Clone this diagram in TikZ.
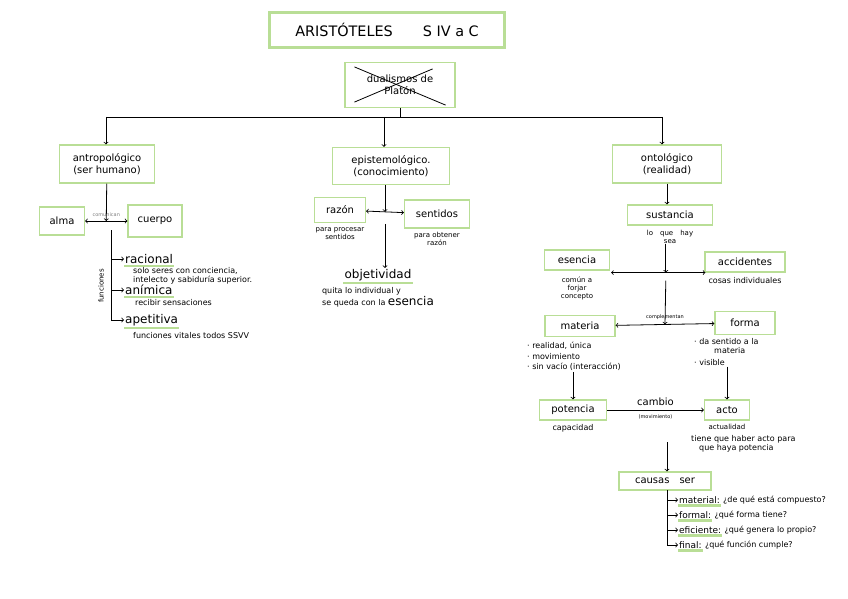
\documentclass[tikz,border=0pt]{standalone}
\usepackage{fontspec}
\setmainfont{DejaVu Sans}
\usepackage{xcolor}
\usepackage{tikz}
\usetikzlibrary{positioning}
\definecolor{hlgreen}{RGB}{185,222,150}

\begin{document}
\begin{tikzpicture}[x=1pt, y=-1pt,
    box/.style={rectangle, draw=hlgreen, line width=1.2pt, minimum height=20pt, align=center, font=\normalsize},
    word/.style={font=\large, inner sep=1pt, append after command={([yshift=-1pt]\tikzlastnode.south west) edge[hlgreen, line width=2.5pt] ([yshift=-1pt]\tikzlastnode.south east)}},
    key/.style={word, font=\small},
    note/.style={font=\footnotesize, align=left, inner sep=1pt},
    sub/.style={font=\scriptsize, align=center, inner sep=1pt},
    arrow/.style={thick,->,>=to},
    darrow/.style={thick,<->,>=to}
]
\useasboundingbox (0,0) rectangle (848,599);

% Title
\node (title) [box, line width=3pt, minimum width=235pt, minimum height=35pt, font=\Large] at (387,30) {ARISTÓTELES\hspace{30pt}S IV a C};
\node (dual) [box, minimum width=110pt, minimum height=45pt] at (400,85) {dualismos de\\Platón};
\draw[thick] ([shift={(10,5)}]dual.north west) -- ([shift={(-10,-3)}]dual.south east);
\draw[thick] ([shift={(10,-6)}]dual.south west) -- ([shift={(-23,7)}]dual.north east);

% Main branches
\node (antro) [box, minimum width=95pt, minimum height=38pt] at (107,164) {antropológico\\(ser humano)};
\node (episte) [box, minimum width=117pt, minimum height=37pt] at (391,166) {epistemológico.\\(conocimiento)};
\node (onto) [box, minimum width=109pt, minimum height=38pt] at (667,164) {ontológico\\(realidad)};

\coordinate (barL) at (106,117);
\coordinate (barM) at (384,117);
\coordinate (barR) at (662,117);
\draw[thick] (dual) -- (dual |- barM);
\draw[thick] (barL) -- (barR);
\draw[arrow] (barL) -- (barL |- antro.north);
\draw[arrow] (barM) -- (barM |- episte.north);
\draw[arrow] (barR) -- (barR |- onto.north);

% antropologico
\node (alma) [box, minimum width=45pt, minimum height=28pt] at (62,221) {alma};
\node (cuerpo) [box, minimum width=54pt, minimum height=32pt] at (155,221) {cuerpo};
\draw[darrow] (alma) -- (cuerpo) node[midway, above=1pt, font=\tiny, text=gray] {comunican} coordinate[midway] (ac);
\draw[arrow] (antro) -- (ac);

\coordinate (fn) at (111,230);
\node (rac) [word, anchor=west] at (124,259) {racional};
\node [note, below right=1pt and 8pt of rac.south west] {solo seres con conciencia,\\intelecto y sabiduría superior.};
\node (anim) [word, anchor=west] at (124,290) {anímica};
\node [note, below right=2pt and 10pt of anim.south west] {recibir sensaciones};
\node (apet) [word, anchor=west] at (124,320) {apetitiva};
\node [note, below right=4pt and 8pt of apet.south west] {funciones vitales todos SSVV};
\node [sub, rotate=90] at (101,286) {funciones};
\draw[arrow] (fn) |- (rac);
\draw[arrow] (fn) |- (anim);
\draw[arrow] (fn) |- (apet);

% epistemologico
\node (razon) [box, minimum width=51pt, minimum height=25pt] at (340,210) {razón};
\node (sent) [box, minimum width=65pt, minimum height=28pt] at (437,214) {sentidos};
\node [sub, below=3pt of razon] {para procesar\\sentidos};
\node [sub, below=2pt of sent] {para obtener\\razón};
\draw[darrow] (razon) -- (sent) coordinate[midway] (rs);
\draw[arrow] (episte.south -| rs) -- (rs);
\node (obj) [word] at (378,275) {objetividad};
\node [note, below=4pt of obj] {quita lo individual y\\se queda con la {\large esencia}};
\draw[arrow] ([yshift=-12pt]rs) -- (rs |- obj.north);

% ontologico
\node (sust) [box, minimum width=85pt] at (670,215) {sustancia};
\node (hay) [sub, below=3pt of sust] {lo\quad que\quad hay\\sea};
\draw[arrow] (onto.south) -- (onto.south |- sust.north);
\node (esen) [box, minimum width=65pt] at (577,260) {esencia};
\node [sub, below=5pt of esen] {común a\\forjar\\concepto};
\node (acc) [box, minimum width=80pt] at (745,262) {accidentes};
\node [note, below=4pt of acc] {cosas individuales};
\draw[darrow] ([shift={(1,2)}]esen.south east) -- ([shift={(1,2)}]esen.south east -| acc.west) coordinate[pos=0.58] (ea);
\draw[arrow] (ea |- hay.south) -- (ea);

\node (mat) [box, minimum width=70pt, minimum height=21pt] at (580,326) {materia};
\node (forma) [box, minimum width=60pt, minimum height=23pt] at (745,323) {forma};
\draw[darrow] (mat) -- (forma) node[midway, above=1pt, font=\tiny] {complementan} coordinate[midway] (mf);
\draw[arrow] ([yshift=-8pt]ea) -- (mf);
\node (mnote) [note, anchor=north west] at (526,341) {· realidad, única\\[1pt]· movimiento\\[1pt]· sin vacío (interacción)};
\node (fnote) [note, anchor=north west] at (693,337) {· da sentido a la\\\hspace{2.5em}materia\\[2pt]· visible};

\node (pot) [box, minimum width=67pt] at (573,410) {potencia};
\node [note, below=3pt of pot] {capacidad};
\node (acto) [box, minimum width=45pt] at (727,410) {acto};
\node [sub, below=2pt of acto] {actualidad};
\node [note, anchor=north west] at (690,434) {tiene que haber acto para\\\hspace{1em}que haya potencia};
\draw[arrow] (pot |- mnote.south) -- (pot);
\draw[arrow] (acto |- fnote.south) -- (acto);
\draw[arrow] (pot) -- (acto) node[midway, above=1pt, font=\normalsize] {cambio} node[midway, below=1pt, font=\tiny] {(movimiento)};

% causas
\node (causas) [box, minimum width=92pt, minimum height=18pt] at (665,481) {causas\quad ser};
\coordinate (cz) at (667,442);
\draw[arrow] (cz) -- (cz |- causas.north);
\coordinate (cs) at (667,490);
\node (cmat) [key, anchor=west] at (678,500) {material:};
\node [note, right=1pt of cmat] {¿de qué está compuesto?};
\node (cfor) [key, anchor=west] at (678,515) {formal:};
\node [note, right=1pt of cfor] {¿qué forma tiene?};
\node (cefi) [key, anchor=west] at (678,530) {eficiente:};
\node [note, right=1pt of cefi] {¿qué genera lo propio?};
\node (cfin) [key, anchor=west] at (678,545) {final:};
\node [note, right=1pt of cfin] {¿qué función cumple?};
\draw[arrow] (cs) |- (cmat);
\draw[arrow] (cs) |- (cfor);
\draw[arrow] (cs) |- (cefi);
\draw[arrow] (cs) |- (cfin);

\end{tikzpicture}
\end{document}
